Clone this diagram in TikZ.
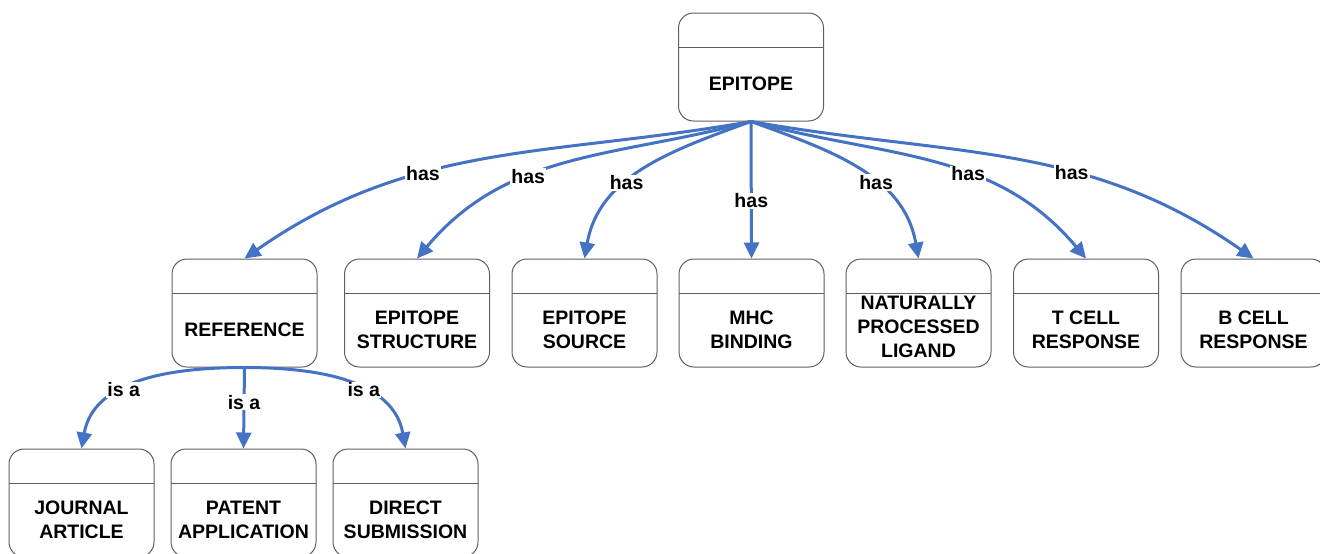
\documentclass[tikz,border=0pt]{standalone}
\usepackage{fontspec}
\setmainfont{Liberation Sans}
\usetikzlibrary{arrows.meta}
\definecolor{linkblue}{RGB}{68,114,196}
\definecolor{boxgray}{RGB}{95,95,95}
\begin{document}
\begin{tikzpicture}[x=1pt, y=1pt,
  every node/.style={font=\bfseries\fontsize{19.5}{24}\selectfont},
  ent/.style={draw=boxgray, line width=1pt, rounded corners=15pt, minimum width=145pt, minimum height=108pt, inner sep=0pt,
    path picture={\draw[boxgray, line width=1pt] ([yshift=-34pt]path picture bounding box.north west) -- ([yshift=-34pt]path picture bounding box.north east);}},
  txt/.style={yshift=-17pt, align=center},
  link/.style={draw=linkblue, line width=3pt, -{Triangle[length=16pt,width=15pt]}},
  lbl/.style={fill=white, inner sep=1pt}]
\useasboundingbox (0,0) rectangle (1320,-554);
\node[ent, label={[txt]center:EPITOPE}] (ent0) at (751,-67){};
\node[ent, label={[txt]center:REFERENCE}] (ent1) at (244.5,-313){};
\node[ent, label={[txt]center:EPITOPE\\STRUCTURE}] (ent2) at (417,-313){};
\node[ent, label={[txt]center:EPITOPE\\SOURCE}] (ent3) at (584.5,-313){};
\node[ent, label={[txt]center:MHC\\BINDING}] (ent4) at (751.5,-313){};
\node[ent, label={[txt,yshift=3pt]center:NATURALLY\\PROCESSED\\LIGAND}] (ent5) at (918.5,-313){};
\node[ent, label={[txt]center:T CELL\\RESPONSE}] (ent6) at (1086,-313){};
\node[ent, label={[txt]center:B CELL\\RESPONSE}] (ent7) at (1253.5,-313){};
\node[ent, label={[txt]center:JOURNAL\\ARTICLE}] (ent8) at (81.5,-503){};
\node[ent, label={[txt]center:PATENT\\APPLICATION}] (ent9) at (243.5,-503){};
\node[ent, label={[txt]center:DIRECT\\SUBMISSION}] (ent10) at (405.5,-503){};
% has
\draw[link] (ent0.south) to[out=190,in=35] node[lbl,pos=.63]{has} (ent1.north);
\draw[link] (ent0.south) to[out=195,in=50] node[lbl,pos=.62]{has} (ent2.north);
\draw[link] (ent0.south) to[out=200,in=80] node[lbl,pos=.6]{has} (ent3.north);
\draw[link] (ent0.south) -- node[lbl,pos=.58]{has} (ent4.north);
\draw[link] (ent0.south) to[out=-20,in=100] node[lbl,pos=.6]{has} (ent5.north);
\draw[link] (ent0.south) to[out=-15,in=130] node[lbl,pos=.6]{has} (ent6.north);
\draw[link] (ent0.south) to[out=-10,in=145] node[lbl,pos=.62]{has} (ent7.north);
% is a
\draw[link] (ent1.south) to[out=180,in=80] node[lbl,pos=.6]{is a} (ent8.north);
\draw[link] (ent1.south) -- node[lbl,pos=.43]{is a} (ent9.north);
\draw[link] (ent1.south) to[out=0,in=100] node[lbl,pos=.6]{is a} (ent10.north);

\end{tikzpicture}
\end{document}
